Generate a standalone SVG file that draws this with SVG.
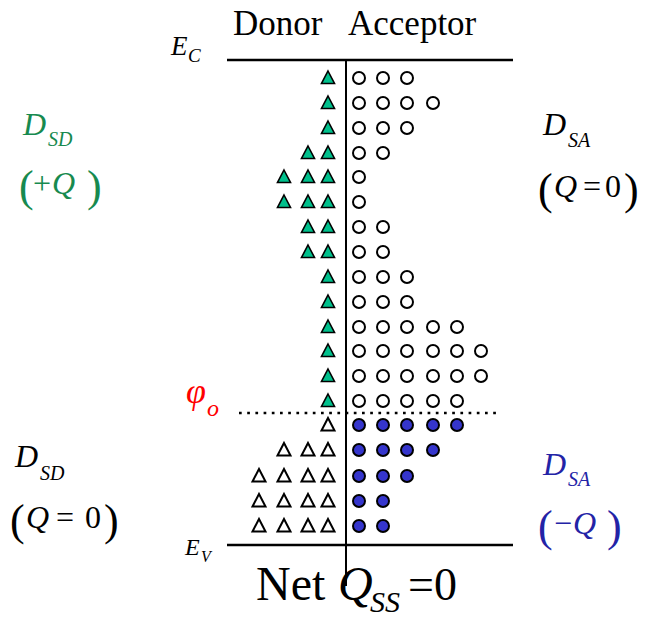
<svg xmlns="http://www.w3.org/2000/svg" width="653" height="619" viewBox="0 0 653 619">
<g id="axes" stroke="#000">
<line x1="227" y1="60" x2="513" y2="60" stroke-width="2.5"/>
<line x1="227" y1="545" x2="513" y2="545" stroke-width="2.5"/>
<line x1="346" y1="60" x2="346" y2="586" stroke-width="2"/>
<line x1="239" y1="413" x2="499" y2="413" stroke-width="2.7" stroke-dasharray="2.7 5.5"/>
</g>
<g id="donors-charged" fill="#00c08c" stroke="#000" stroke-width="1.6">
<polygon points="328,71 334.5,83.5 321.5,83.5"/>
<polygon points="328,96 334.5,108.5 321.5,108.5"/>
<polygon points="328,121 334.5,133.5 321.5,133.5"/>
<polygon points="328,146 334.5,158.5 321.5,158.5"/>
<polygon points="308,146 314.5,158.5 301.5,158.5"/>
<polygon points="328,170 334.5,182.5 321.5,182.5"/>
<polygon points="308,170 314.5,182.5 301.5,182.5"/>
<polygon points="284,170 290.5,182.5 277.5,182.5"/>
<polygon points="328,195 334.5,207.5 321.5,207.5"/>
<polygon points="308,195 314.5,207.5 301.5,207.5"/>
<polygon points="284,195 290.5,207.5 277.5,207.5"/>
<polygon points="328,220 334.5,232.5 321.5,232.5"/>
<polygon points="308,220 314.5,232.5 301.5,232.5"/>
<polygon points="328,245 334.5,257.5 321.5,257.5"/>
<polygon points="308,245 314.5,257.5 301.5,257.5"/>
<polygon points="328,270 334.5,282.5 321.5,282.5"/>
<polygon points="328,295 334.5,307.5 321.5,307.5"/>
<polygon points="328,320 334.5,332.5 321.5,332.5"/>
<polygon points="328,344 334.5,356.5 321.5,356.5"/>
<polygon points="328,369 334.5,381.5 321.5,381.5"/>
<polygon points="328,394 334.5,406.5 321.5,406.5"/>
</g>
<g id="donors-neutral" fill="#fff" stroke="#000" stroke-width="2">
<polygon points="328,418 334.5,430.5 321.5,430.5"/>
<polygon points="328,443 334.5,455.5 321.5,455.5"/>
<polygon points="308,443 314.5,455.5 301.5,455.5"/>
<polygon points="284,443 290.5,455.5 277.5,455.5"/>
<polygon points="328,469 334.5,481.5 321.5,481.5"/>
<polygon points="308,469 314.5,481.5 301.5,481.5"/>
<polygon points="284,469 290.5,481.5 277.5,481.5"/>
<polygon points="259,469 265.5,481.5 252.5,481.5"/>
<polygon points="328,494 334.5,506.5 321.5,506.5"/>
<polygon points="308,494 314.5,506.5 301.5,506.5"/>
<polygon points="284,494 290.5,506.5 277.5,506.5"/>
<polygon points="259,494 265.5,506.5 252.5,506.5"/>
<polygon points="328,519 334.5,531.5 321.5,531.5"/>
<polygon points="308,519 314.5,531.5 301.5,531.5"/>
<polygon points="284,519 290.5,531.5 277.5,531.5"/>
<polygon points="259,519 265.5,531.5 252.5,531.5"/>
</g>
<g id="acceptors-empty" fill="#fff" stroke="#000" stroke-width="2">
<circle cx="359" cy="78" r="6"/><circle cx="383" cy="78" r="6"/><circle cx="407" cy="78" r="6"/>
<circle cx="359" cy="103" r="6"/><circle cx="383" cy="103" r="6"/><circle cx="407" cy="103" r="6"/><circle cx="433" cy="103" r="6"/>
<circle cx="359" cy="128" r="6"/><circle cx="383" cy="128" r="6"/><circle cx="407" cy="128" r="6"/>
<circle cx="359" cy="153" r="6"/><circle cx="383" cy="153" r="6"/>
<circle cx="359" cy="177" r="6"/>
<circle cx="359" cy="202" r="6"/>
<circle cx="359" cy="227" r="6"/><circle cx="383" cy="227" r="6"/>
<circle cx="359" cy="252" r="6"/><circle cx="383" cy="252" r="6"/>
<circle cx="359" cy="277" r="6"/><circle cx="383" cy="277" r="6"/><circle cx="407" cy="277" r="6"/>
<circle cx="359" cy="302" r="6"/><circle cx="383" cy="302" r="6"/><circle cx="407" cy="302" r="6"/>
<circle cx="359" cy="327" r="6"/><circle cx="383" cy="327" r="6"/><circle cx="407" cy="327" r="6"/><circle cx="433" cy="327" r="6"/><circle cx="457" cy="327" r="6"/>
<circle cx="359" cy="351" r="6"/><circle cx="383" cy="351" r="6"/><circle cx="407" cy="351" r="6"/><circle cx="433" cy="351" r="6"/><circle cx="457" cy="351" r="6"/><circle cx="481" cy="351" r="6"/>
<circle cx="359" cy="376" r="6"/><circle cx="383" cy="376" r="6"/><circle cx="407" cy="376" r="6"/><circle cx="433" cy="376" r="6"/><circle cx="457" cy="376" r="6"/><circle cx="481" cy="376" r="6"/>
<circle cx="359" cy="401" r="6"/><circle cx="383" cy="401" r="6"/><circle cx="407" cy="401" r="6"/><circle cx="433" cy="401" r="6"/><circle cx="457" cy="401" r="6"/>
</g>
<g id="acceptors-filled" fill="#3535cc" stroke="#000" stroke-width="2">
<circle cx="359" cy="425" r="6"/><circle cx="383" cy="425" r="6"/><circle cx="407" cy="425" r="6"/><circle cx="433" cy="425" r="6"/><circle cx="457" cy="425" r="6"/>
<circle cx="359" cy="450" r="6"/><circle cx="383" cy="450" r="6"/><circle cx="407" cy="450" r="6"/><circle cx="433" cy="450" r="6"/>
<circle cx="359" cy="476" r="6"/><circle cx="383" cy="476" r="6"/><circle cx="407" cy="476" r="6"/>
<circle cx="359" cy="501" r="6"/><circle cx="383" cy="501" r="6"/>
<circle cx="359" cy="526" r="6"/><circle cx="383" cy="526" r="6"/>
</g>
<g id="titles">
<text font-family="Liberation Serif" x="233" y="35" font-size="35">Donor</text>
<text font-family="Liberation Serif" x="348" y="35" font-size="35">Acceptor</text>
<text font-family="Liberation Serif" font-style="italic" x="171" y="55" font-size="27">E</text>
<text font-family="Liberation Serif" font-style="italic" x="188" y="62" font-size="19">C</text>
<text font-family="Liberation Serif" font-style="italic" x="185" y="555" font-size="24">E</text>
<text font-family="Liberation Serif" font-style="italic" x="201" y="562" font-size="16">V</text>
<text font-family="Liberation Serif" font-style="italic" fill="#ff0000" x="186" y="403" font-size="36">&#966;</text>
<text font-family="Liberation Serif" font-style="italic" fill="#ff0000" x="207" y="416" font-size="24">o</text>
</g>
<g id="label-dsd-top" fill="#178a4f">
<text font-family="Liberation Serif" font-style="italic" x="23" y="135" font-size="32">D</text>
<text font-family="Liberation Serif" font-style="italic" x="48" y="146" font-size="20">SD</text>
<text font-family="Liberation Serif" x="19" y="201" font-size="44">(</text>
<text font-family="Liberation Serif" x="33" y="194" font-size="32">+</text>
<text font-family="Liberation Serif" font-style="italic" x="52" y="194" font-size="32">Q</text>
<text font-family="Liberation Serif" x="87" y="201" font-size="44">)</text>
</g>
<g id="label-dsa-top">
<text font-family="Liberation Serif" font-style="italic" x="543" y="135" font-size="32">D</text>
<text font-family="Liberation Serif" font-style="italic" x="568" y="147" font-size="20">SA</text>
<text font-family="Liberation Serif" x="538" y="204" font-size="44">(</text>
<text font-family="Liberation Serif" font-style="italic" x="554" y="197" font-size="32">Q</text>
<text font-family="Liberation Serif" x="583" y="197" font-size="32">=</text>
<text font-family="Liberation Serif" x="605" y="197" font-size="32">0</text>
<text font-family="Liberation Serif" x="624" y="204" font-size="44">)</text>
</g>
<g id="label-dsd-bottom">
<text font-family="Liberation Serif" font-style="italic" x="15" y="467" font-size="32">D</text>
<text font-family="Liberation Serif" font-style="italic" x="40" y="480" font-size="20">SD</text>
<text font-family="Liberation Serif" x="10" y="535" font-size="44">(</text>
<text font-family="Liberation Serif" font-style="italic" x="26" y="528" font-size="32">Q</text>
<text font-family="Liberation Serif" x="56" y="528" font-size="32">=</text>
<text font-family="Liberation Serif" x="85" y="528" font-size="32">0</text>
<text font-family="Liberation Serif" x="104" y="535" font-size="44">)</text>
</g>
<g id="label-dsa-bottom" fill="#2323a6">
<text font-family="Liberation Serif" font-style="italic" x="543" y="475" font-size="32">D</text>
<text font-family="Liberation Serif" font-style="italic" x="568" y="486" font-size="20">SA</text>
<text font-family="Liberation Serif" x="538" y="541" font-size="44">(</text>
<text font-family="Liberation Serif" x="554" y="534" font-size="32">&#8722;</text>
<text font-family="Liberation Serif" font-style="italic" x="573" y="534" font-size="32">Q</text>
<text font-family="Liberation Serif" x="607" y="541" font-size="44">)</text>
</g>
<g id="net">
<text font-family="Liberation Serif" x="256" y="600" font-size="48">Net</text>
<text font-family="Liberation Serif" font-style="italic" x="338" y="600" font-size="48">Q</text>
<text font-family="Liberation Serif" font-style="italic" x="370" y="612" font-size="30">SS</text>
<text font-family="Liberation Serif" x="408" y="600" font-size="46">=0</text>
</g>
</svg>
